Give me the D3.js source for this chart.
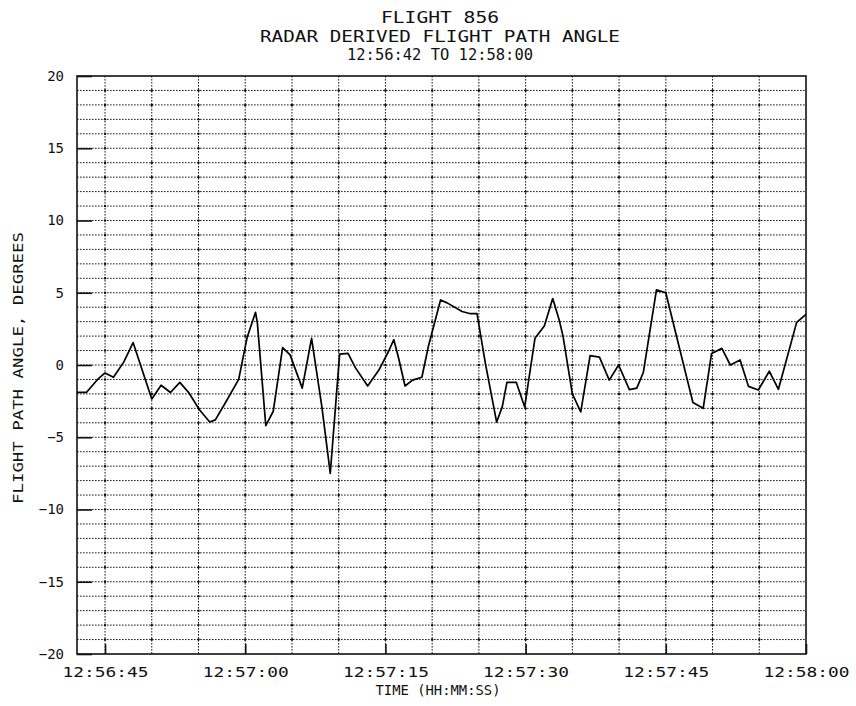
<!DOCTYPE html>
<html>
<head>
<meta charset="utf-8">
<script src="https://cdn.jsdelivr.net/npm/d3@7"></script>
<style>
  html, body { margin: 0; padding: 0; background: #fff; }
  svg { display: block; }
  text { font-family: "DejaVu Sans Mono", "Liberation Mono", monospace; fill: #111; }
</style>
</head>
<body>
<svg id="chart" width="856" height="706"></svg>
<script>
// ---- data ----
// seconds after 12:56:42
const seconds = [0, 1.0, 2.2, 3.0, 3.9, 5.0, 6.0, 8.0, 9.0, 10.0, 11.0, 12.0, 13.1, 14.2, 14.8,
  15.8, 17.3, 18.2, 19.1, 19.3, 20.2, 21.0, 22.0, 22.8, 24.1, 25.1, 26.2, 27.1, 28.1, 29.0,
  29.8, 31.1, 32.3, 33.3, 33.9, 34.4, 35.1, 35.9, 36.9, 37.6, 38.9, 39.6, 41.2, 42.1, 42.8,
  43.7, 44.9, 45.5, 46.0, 47.0, 47.9, 49.0, 50.0, 50.9, 51.6, 52.0, 53.0, 53.9, 54.9, 55.9,
  56.95, 57.95, 59.1, 59.9, 60.6, 62.0, 63.0, 64.2, 65.9, 67.0, 67.9, 69.0, 69.9, 70.95,
  71.85, 72.9, 74.07, 75.05, 77.0, 78.0];
// flight path angle, degrees
const angles = [-1.9, -1.9, -1.0, -0.55, -0.85, 0.2, 1.55, -2.35, -1.4, -1.9, -1.2, -1.95, -3.1, -3.95, -3.8,
  -2.7, -1.0, 1.9, 3.65, 2.9, -4.2, -3.2, 1.2, 0.7, -1.6, 1.85, -2.9, -7.5, 0.75, 0.8,
  -0.2, -1.45, -0.35, 0.9, 1.75, 0.5, -1.45, -1.05, -0.85, 1.3, 4.5, 4.3, 3.7, 3.55, 3.55,
  0.1, -3.95, -2.9, -1.2, -1.2, -2.9, 1.85, 2.7, 4.6, 3.1, 2.0, -2.0, -3.25, 0.65, 0.55,
  -1.05, 0.0, -1.7, -1.6, -0.5, 5.2, 5.0, 1.85, -2.6, -3.0, 0.8, 1.15, 0.0, 0.35,
  -1.48, -1.73, -0.43, -1.68, 2.95, 3.5];

const titleLines = ['FLIGHT 856', 'RADAR DERIVED FLIGHT PATH ANGLE', '12:56:42 TO 12:58:00'];
const yTicks = [-20, -15, -10, -5, 0, 5, 10, 15, 20];
const xTickLabels = ['12:56:45', '12:57:00', '12:57:15', '12:57:30', '12:57:45', '12:58:00'];
const xLabel = 'TIME (HH:MM:SS)';
const yLabel = 'FLIGHT PATH ANGLE, DEGREES';

// ---- scales ----
const t0 = new Date(2000, 0, 1, 12, 56, 42);
const t1 = new Date(2000, 0, 1, 12, 58, 0);
const toDate = s => new Date(t0.getTime() + s * 1000);
const parseHMS = str => {
  const [h, m, s] = str.split(':').map(Number);
  return new Date(2000, 0, 1, h, m, s);
};

const plotL = 77, plotR = 806, plotT = 76, plotB = 654;
const x = d3.scaleTime().domain([t0, t1]).range([plotL, plotR]);
const y = d3.scaleLinear().domain([-20, 20]).range([plotB, plotT]);

const svg = d3.select('#chart');

// ---- grid ----
const hGrid = d3.range(-19, 20);
const vGrid = d3.range(3, 78, 5).map(toDate); // every 5 s from 12:56:45

const grid = svg.append('g').attr('class', 'grid')
  .attr('stroke', '#1a1a1a').attr('stroke-width', 1).attr('stroke-dasharray', '1.6,1.4');

grid.selectAll('line.h').data(hGrid).enter().append('line')
  .attr('class', 'h')
  .attr('x1', plotL).attr('x2', plotR)
  .attr('y1', d => y(d)).attr('y2', d => y(d));

grid.selectAll('line.v').data(vGrid).enter().append('line')
  .attr('class', 'v')
  .attr('x1', d => x(d)).attr('x2', d => x(d))
  .attr('y1', plotT).attr('y2', plotB);

// dots where grid lines cross
const crossings = [];
vGrid.forEach(t => hGrid.forEach(v => crossings.push({ t, v })));
svg.append('g').selectAll('circle').data(crossings).enter().append('circle')
  .attr('cx', d => x(d.t)).attr('cy', d => y(d.v)).attr('r', 1.2).attr('fill', '#111');

// ---- frame + major ticks ----
svg.append('rect')
  .attr('x', plotL).attr('y', plotT).attr('width', plotR - plotL).attr('height', plotB - plotT)
  .attr('fill', 'none').attr('stroke', '#111').attr('stroke-width', 1.6);

const yAxis = d3.axisLeft(y).tickValues(yTicks).tickSize(-15).tickPadding(13).tickFormat(d3.format('d'));
const yG = svg.append('g').attr('transform', `translate(${plotL},0)`).call(yAxis);
yG.select('.domain').remove();
yG.selectAll('line').attr('stroke', '#111').attr('stroke-width', 1.6);
yG.selectAll('text').attr('font-size', 14).attr('font-family', null).style('fill', '#111')
  .attr('x', -13);

const xTicks = xTickLabels.map(parseHMS);
const xAxis = d3.axisBottom(x).tickValues(xTicks).tickSize(-10).tickPadding(13)
  .tickFormat(d3.timeFormat('%H:%M:%S'));
const xG = svg.append('g').attr('transform', `translate(0,${plotB})`).call(xAxis);
xG.select('.domain').remove();
xG.selectAll('line').attr('stroke', '#111').attr('stroke-width', 1.6);
xG.selectAll('text').attr('font-size', 14).attr('font-family', null).style('fill', '#111')
  .attr('textLength', 86).attr('lengthAdjust', 'spacingAndGlyphs');

// ---- data line ----
const pts = seconds.map((s, i) => ({ t: toDate(s), v: angles[i] }));
svg.append('path').datum(pts)
  .attr('fill', 'none').attr('stroke', '#000').attr('stroke-width', 1.7)
  .attr('stroke-linejoin', 'round')
  .attr('d', d3.line().x(d => x(d.t)).y(d => y(d.v)));

// ---- titles ----
const titleY = [23, 42, 60];
const titleLen = [118, 360, 186];
svg.selectAll('text.title').data(titleLines).enter().append('text')
  .attr('class', 'title')
  .attr('x', 440).attr('y', (d, i) => titleY[i])
  .attr('text-anchor', 'middle').attr('font-size', 15)
  .attr('textLength', (d, i) => titleLen[i]).attr('lengthAdjust', 'spacingAndGlyphs')
  .text(d => d);

svg.append('text')
  .attr('x', 438).attr('y', 695).attr('text-anchor', 'middle').attr('font-size', 14)
  .attr('textLength', 125).attr('lengthAdjust', 'spacingAndGlyphs')
  .text(xLabel);

svg.append('text')
  .attr('transform', 'translate(23,368) rotate(-90)')
  .attr('text-anchor', 'middle').attr('font-size', 14)
  .attr('textLength', 272).attr('lengthAdjust', 'spacingAndGlyphs')
  .text(yLabel);
</script>
</body>
</html>
